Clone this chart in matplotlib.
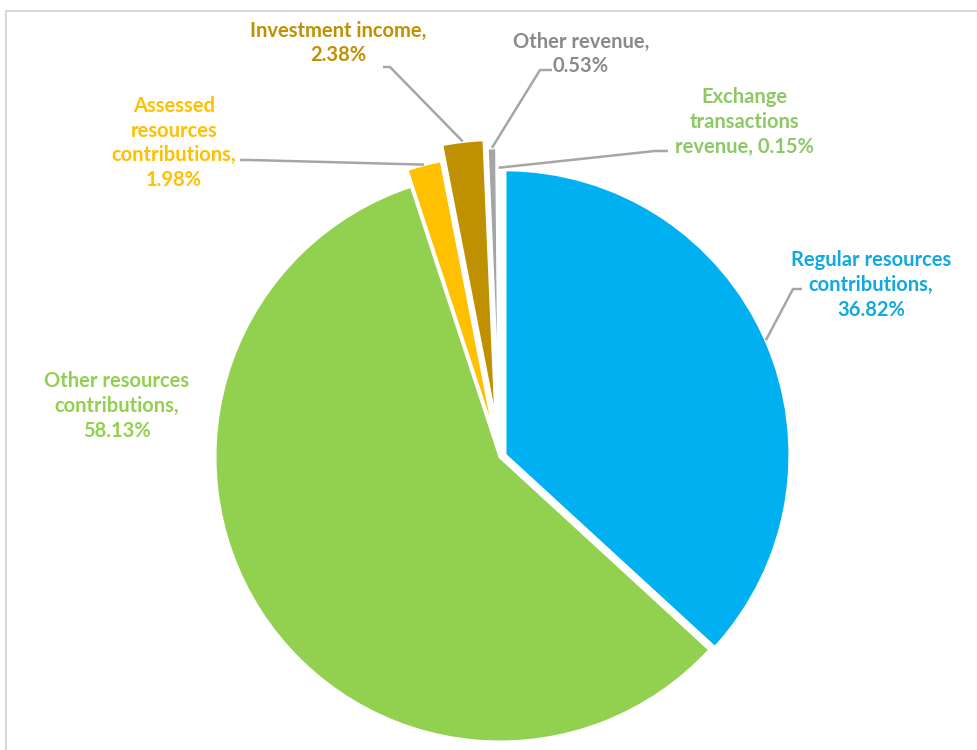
import matplotlib
matplotlib.use("Agg")
import numpy as np
import matplotlib.pyplot as plt
from matplotlib.lines import Line2D

# revenue shares, clockwise from 12 o'clock
labels = [
    "Regular resources\ncontributions,\n36.82%",
    "Other resources\ncontributions,\n58.13%",
    "Assessed\nresources\ncontributions,\n1.98%",
    "Investment income,\n2.38%",
    "Other revenue,\n0.53%",
    "Exchange\ntransactions\nrevenue, 0.15%",
]
shares = [36.82, 58.13, 1.98, 2.38, 0.53, 0.15]
colors = ["#00B0F0", "#92D050", "#FFC000", "#BF9000", "#A5A5A5", "#A9D18E"]
text_colors = ["#14A8E0", "#92D050", "#FFC000", "#BF9000", "#8A8A8A", "#8CC965"]
explode = [0.019, 0.0, 0.06, 0.115, 0.085, 0.015]

W, H = 977, 750
CX, CY, R = 500, 457, 285  # pie centre / radius in pixels


def px(x, y):
    # pixel (from top-left) -> data units of the pie axes
    return (x - CX) / R, (CY - y) / R


# label centres and leader-line knees, in pixels (None = no leader)
label_pos = [(871, 285), (117, 406), (174, 143), (338, 43), (581, 54), (744, 122)]
leader_knees = [
    [(802, 289), (793, 289)],
    None,
    [(240, 160), (250, 160)],
    [(383, 67), (390, 67)],
    [(552, 70), (540, 70)],
    [(668, 151), (655, 151)],
]

fig = plt.figure(figsize=(W / 100, H / 100), dpi=100)
ax = fig.add_axes([0, 0, 1, 1])

wedges, _ = ax.pie(shares, colors=colors, explode=explode, startangle=90,
                   counterclock=False, radius=1.0,
                   wedgeprops=dict(edgecolor="white", linewidth=2.2))

ax.set_aspect("auto")
ax.set_xlim(-CX / R, (W - CX) / R)
ax.set_ylim(-(H - CY) / R, CY / R)
ax.axis("off")

for w, lab, tc, pos, knees in zip(wedges, labels, text_colors, label_pos, leader_knees):
    tx, ty = px(*pos)
    ax.text(tx, ty, lab, ha="center", va="center", color=tc, fontsize=14.5,
            fontweight="bold", family="Lato", linespacing=1.3)
    if knees is None:
        continue
    mid = np.deg2rad((w.theta1 + w.theta2) / 2)
    ex = w.center[0] + w.r * np.cos(mid)
    ey = w.center[1] + w.r * np.sin(mid)
    pts = [px(*k) for k in knees] + [(ex, ey)]
    xs, ys = zip(*pts)
    ax.plot(xs, ys, color="#A6A6A6", lw=1.8, solid_capstyle="butt")

# chart frame (left and top edges)
fig.add_artist(Line2D([5.5 / W, 5.5 / W], [0, 1 - 10.5 / H], color="#D9D9D9",
                      lw=1.5, transform=fig.transFigure))
fig.add_artist(Line2D([5.5 / W, 1], [1 - 10.5 / H, 1 - 10.5 / H], color="#D9D9D9",
                      lw=1.5, transform=fig.transFigure))

fig.savefig("out.png", dpi=100, facecolor="white")
